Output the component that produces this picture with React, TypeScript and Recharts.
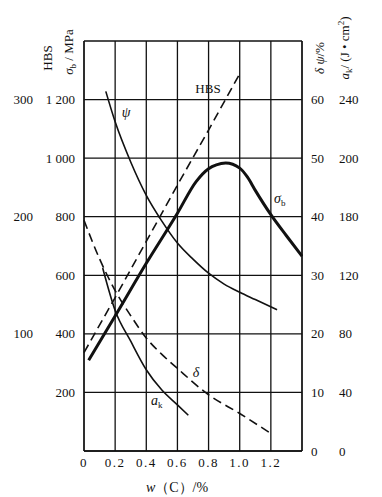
import { LineChart, Line, XAxis, YAxis, CartesianGrid } from 'recharts';

// w(C)/% on the horizontal axis
const xTicks = [0, 0.2, 0.4, 0.6, 0.8, 1.0, 1.2, 1.4];
const xLabels = ['0', '0.2', '0.4', '0.6', '0.8', '1.0', '1.2', ''];

// left axes
const mpaTicks = [0, 200, 400, 600, 800, 1000, 1200, 1400];
const mpaLabels = ['', '200', '400', '600', '800', '1 000', '1 200', ''];
const hbsTicks = [100, 200, 300];

// right axes
const pctTicks = [0, 10, 20, 30, 40, 50, 60];
const akTicks = [0, 40, 80, 120, 160, 200, 240];
const akLabels = ['0', '40', '80', '120', '180', '200', '240']; // as printed

// curves
const hbsX = [0, 0.2, 0.4, 0.6, 0.8, 1.0];
const hbsY = [84, 131, 179, 227, 274, 322];

const sigmaX = [0.03, 0.2, 0.4, 0.6, 0.72, 0.8, 0.85, 0.91, 1.0, 1.05, 1.1, 1.2, 1.3, 1.4];
const sigmaY = [310, 461, 641, 812, 920, 964, 977, 983, 966, 935, 890, 807, 735, 665];

const psiX = [0.14, 0.2, 0.3, 0.4, 0.5, 0.6, 0.7, 0.8, 0.9, 1.0, 1.1, 1.24];
const psiY = [61.4, 56.2, 49.35, 43.65, 39.25, 35.5, 32.75, 30.35, 28.5, 27.1, 25.85, 24.1];

const deltaX = [0, 0.1, 0.2, 0.3, 0.4, 0.5, 0.6, 0.8, 1.0, 1.2];
const deltaY = [39.4, 32.8, 27.4, 23.1, 19.3, 16.5, 14.1, 9.6, 6.4, 3.0];

const akX = [0.12, 0.2, 0.3, 0.4, 0.5, 0.6, 0.67];
const akY = [125, 96, 75, 55.5, 41.6, 31.5, 24.4];

const toPoints = (xs: number[], ys: number[]) => xs.map((x, i) => ({ x, y: ys[i] }));

const FONT = '"Liberation Serif", "DejaVu Serif", serif';
const INK = '#111';
const tickStyle = { fill: INK, fontSize: 13, fontFamily: FONT };

// axis ids: the one sorting first sits next to the plot
const MPA = 'a_mpa';
const HBS = 'b_hbs';
const PCT = 'a_pct';
const AK = 'b_ak';

const App = () => {
  return (
    <div style={{ position: 'absolute', left: 0, top: 0, width: 382, height: 497, background: '#fff' }}>
      <LineChart width={382} height={497} margin={{ top: 41, right: 0, bottom: 0, left: 0 }}>
        <CartesianGrid yAxisId={MPA} stroke={INK} strokeWidth={1.3} />
        <XAxis
          dataKey="x"
          type="number"
          domain={[0, 1.4]}
          ticks={xTicks}
          interval={0}
          height={46}
          tickSize={0}
          tickMargin={7}
          tickFormatter={(v: number) => xLabels[xTicks.indexOf(v)] ?? ''}
          tick={{ ...tickStyle, letterSpacing: 1.5 }}
          axisLine={{ stroke: INK, strokeWidth: 1.3 }}
        />
        <YAxis
          yAxisId={MPA}
          orientation="left"
          domain={[0, 1400]}
          ticks={mpaTicks}
          interval={0}
          width={42}
          tickSize={0}
          tickMargin={9}
          tickFormatter={(v: number) => mpaLabels[mpaTicks.indexOf(v)] ?? ''}
          tick={tickStyle}
          axisLine={{ stroke: INK, strokeWidth: 1.3 }}
        />
        <YAxis
          yAxisId={HBS}
          orientation="left"
          domain={[0, 350]}
          ticks={hbsTicks}
          interval={0}
          width={42}
          tickSize={0}
          tickMargin={9}
          tick={tickStyle}
          axisLine={false}
        />
        <YAxis
          yAxisId={PCT}
          orientation="right"
          domain={[0, 70]}
          ticks={pctTicks}
          interval={0}
          width={30}
          tickSize={0}
          tickMargin={9}
          tick={tickStyle}
          axisLine={{ stroke: INK, strokeWidth: 1.3 }}
        />
        <YAxis
          yAxisId={AK}
          orientation="right"
          domain={[0, 280]}
          ticks={akTicks}
          interval={0}
          width={50}
          tickSize={0}
          tickMargin={7}
          tickFormatter={(v: number) => akLabels[akTicks.indexOf(v)] ?? ''}
          tick={tickStyle}
          axisLine={false}
        />

        <Line
          yAxisId={HBS}
          data={toPoints(hbsX, hbsY)}
          dataKey="y"
          type="linear"
          stroke={INK}
          strokeWidth={1.6}
          strokeDasharray="9 5"
          dot={false}
          isAnimationActive={false}
        />
        <Line
          yAxisId={MPA}
          data={toPoints(sigmaX, sigmaY)}
          dataKey="y"
          type="monotone"
          stroke={INK}
          strokeWidth={3}
          dot={false}
          isAnimationActive={false}
        />
        <Line
          yAxisId={PCT}
          data={toPoints(psiX, psiY)}
          dataKey="y"
          type="monotone"
          stroke={INK}
          strokeWidth={1.6}
          dot={false}
          isAnimationActive={false}
        />
        <Line
          yAxisId={PCT}
          data={toPoints(deltaX, deltaY)}
          dataKey="y"
          type="monotone"
          stroke={INK}
          strokeWidth={1.6}
          strokeDasharray="9 5"
          dot={false}
          isAnimationActive={false}
        />
        <Line
          yAxisId={AK}
          data={toPoints(akX, akY)}
          dataKey="y"
          type="monotone"
          stroke={INK}
          strokeWidth={1.6}
          dot={false}
          isAnimationActive={false}
        />
      </LineChart>

      {/* axis titles and curve names */}
      <svg
        width={382}
        height={497}
        style={{ position: 'absolute', left: 0, top: 0, pointerEvents: 'none' }}
        fontFamily={FONT}
        fill={INK}
      >
        <text transform="translate(52,58) rotate(-90)" textAnchor="middle" fontSize={13}>HBS</text>
        <text transform="translate(73,52) rotate(-90)" textAnchor="middle" fontSize={13}>
          <tspan fontStyle="italic">σ</tspan>
          <tspan fontSize={9} dy={3}>b</tspan>
          <tspan dy={-3}> / MPa</tspan>
        </text>
        <text transform="translate(324,58) rotate(-90)" textAnchor="middle" fontSize={13}>
          <tspan fontStyle="italic">δ ψ</tspan>
          <tspan>/%</tspan>
        </text>
        <text transform="translate(349,48) rotate(-90)" textAnchor="middle" fontSize={13}>
          <tspan fontStyle="italic">a</tspan>
          <tspan fontSize={9} dy={3}>k</tspan>
          <tspan dy={-3}>/ (J • cm</tspan>
          <tspan fontSize={9} dy={-5}>2</tspan>
          <tspan dy={5}>)</tspan>
        </text>
        <text x={177} y={492} textAnchor="middle" fontSize={14}>
          <tspan fontStyle="italic">w</tspan>
          <tspan>（C）/%</tspan>
        </text>

        <text x={208} y={93} textAnchor="middle" fontSize={13}>HBS</text>
        <text x={126} y={117} textAnchor="middle" fontSize={14} fontStyle="italic">ψ</text>
        <text x={274} y={203} fontSize={14}>
          <tspan fontStyle="italic">σ</tspan>
          <tspan fontSize={9} dy={3}>b</tspan>
        </text>
        <text x={196} y={377} textAnchor="middle" fontSize={14} fontStyle="italic">δ</text>
        <text x={151} y={405} fontSize={14}>
          <tspan fontStyle="italic">a</tspan>
          <tspan fontSize={9} dy={3}>k</tspan>
        </text>
      </svg>
    </div>
  );
};

export default App;
